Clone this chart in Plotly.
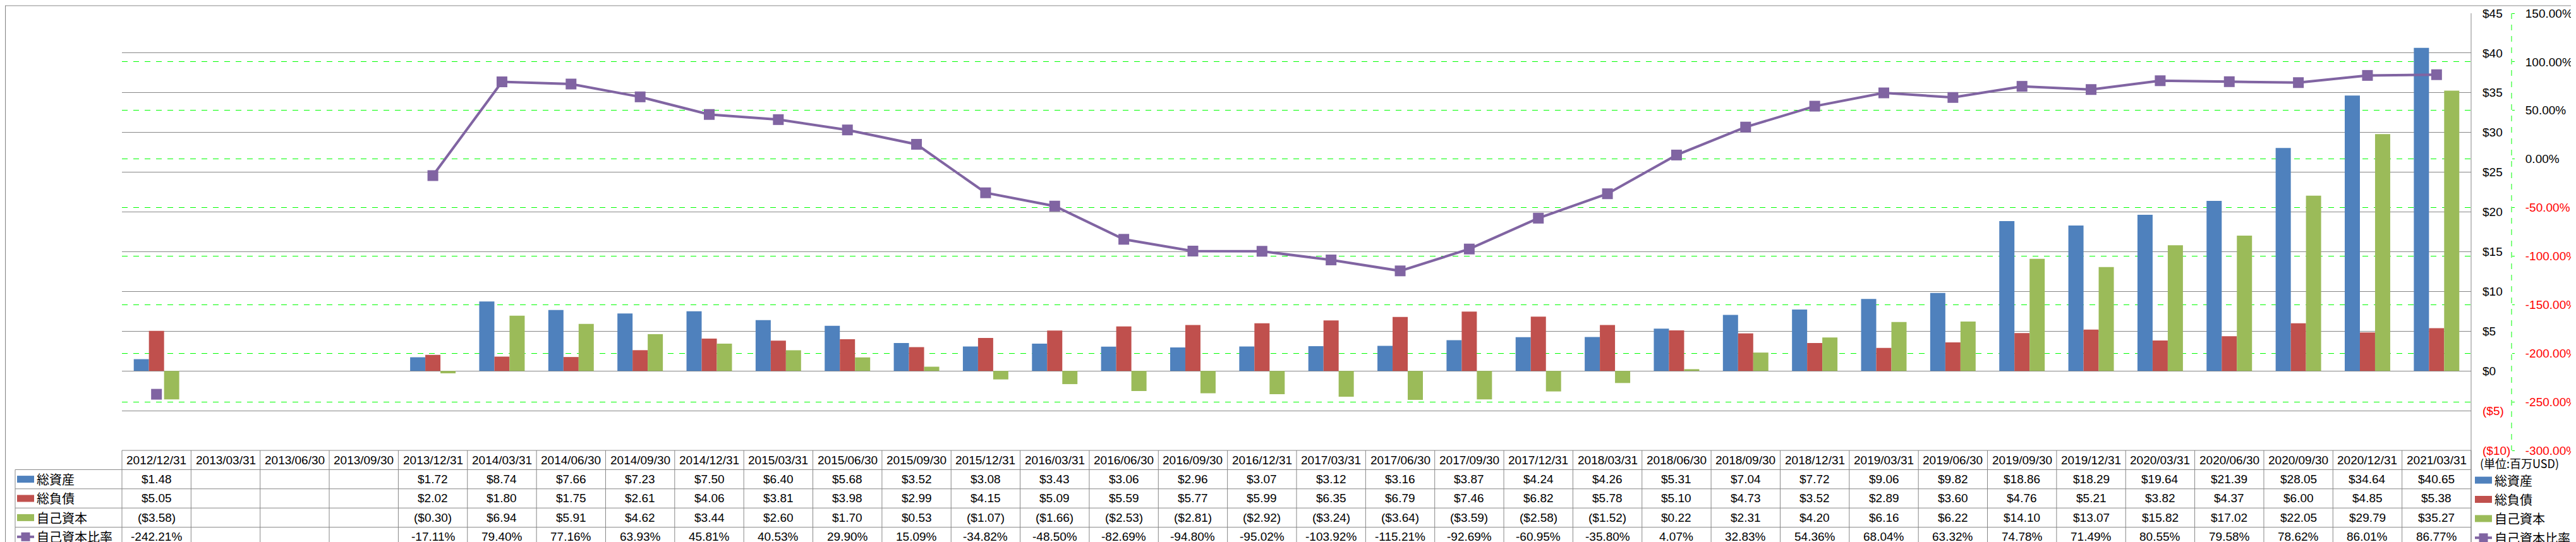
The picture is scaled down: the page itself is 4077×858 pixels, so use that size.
import plotly.graph_objects as go

# ---------------- data ----------------
dates = ["2012/12/31", "2013/03/31", "2013/06/30", "2013/09/30", "2013/12/31",
         "2014/03/31", "2014/06/30", "2014/09/30", "2014/12/31", "2015/03/31",
         "2015/06/30", "2015/09/30", "2015/12/31", "2016/03/31", "2016/06/30",
         "2016/09/30", "2016/12/31", "2017/03/31", "2017/06/30", "2017/09/30",
         "2017/12/31", "2018/03/31", "2018/06/30", "2018/09/30", "2018/12/31",
         "2019/03/31", "2019/06/30", "2019/09/30", "2019/12/31", "2020/03/31",
         "2020/06/30", "2020/09/30", "2020/12/31", "2021/03/31"]
total_assets = [1.48, None, None, None, 1.72, 8.74, 7.66, 7.23, 7.50, 6.40,
                5.68, 3.52, 3.08, 3.43, 3.06, 2.96, 3.07, 3.12, 3.16, 3.87,
                4.24, 4.26, 5.31, 7.04, 7.72, 9.06, 9.82, 18.86, 18.29, 19.64,
                21.39, 28.05, 34.64, 40.65]
total_liabilities = [5.05, None, None, None, 2.02, 1.80, 1.75, 2.61, 4.06, 3.81,
                     3.98, 2.99, 4.15, 5.09, 5.59, 5.77, 5.99, 6.35, 6.79, 7.46,
                     6.82, 5.78, 5.10, 4.73, 3.52, 2.89, 3.60, 4.76, 5.21, 3.82,
                     4.37, 6.00, 4.85, 5.38]
equity = [-3.58, None, None, None, -0.30, 6.94, 5.91, 4.62, 3.44, 2.60,
          1.70, 0.53, -1.07, -1.66, -2.53, -2.81, -2.92, -3.24, -3.64, -3.59,
          -2.58, -1.52, 0.22, 2.31, 4.20, 6.16, 6.22, 14.10, 13.07, 15.82,
          17.02, 22.05, 29.79, 35.27]
equity_ratio = [-242.21, None, None, None, -17.11, 79.40, 77.16, 63.93, 45.81, 40.53,
                29.90, 15.09, -34.82, -48.50, -82.69, -94.80, -95.02, -103.92, -115.21, -92.69,
                -60.95, -35.80, 4.07, 32.83, 54.36, 68.04, 63.32, 74.78, 71.49, 80.55,
                79.58, 78.62, 86.01, 86.77]

series_names = ["総資産", "総負債", "自己資本", "自己資本比率"]
usd_ticks = [-10, -5, 0, 5, 10, 15, 20, 25, 30, 35, 40, 45]
pct_ticks = [-300, -250, -200, -150, -100, -50, 0, 50, 100, 150]
unit_label = "(単位:百万USD)"

# ---------------- style ----------------
BLUE, RED, GREEN, PURPLE = "#4F81BD", "#C0504D", "#9BBB59", "#8064A2"
GRAY = "#878787"
LIME = "#00FF00"
NUM_FONT = "Liberation Sans"
JP_FONT = "Noto Sans CJK JP"

W, H = 4077, 858
ML, MR, MT, MB = 185, 7, 13, 153
PW, PH = W - ML - MR, H - MT - MB
PLOT_R = 3903
N = len(dates)


def px(x):
    return (x - ML) / PW


def py(y):
    return (H - MB - y) / PH


fig = go.Figure()
for name, vals, col in [(series_names[0], total_assets, BLUE),
                        (series_names[1], total_liabilities, RED),
                        (series_names[2], equity, GREEN)]:
    fig.add_trace(go.Bar(x=dates, y=vals, name=name, marker_color=col,
                         marker_line_width=0, showlegend=False))

fig.add_trace(go.Scatter(x=dates, y=equity_ratio, name=series_names[3], yaxis="y2",
                         mode="lines+markers", connectgaps=False,
                         line=dict(color=PURPLE, width=4),
                         marker=dict(symbol="square", size=17, color=PURPLE),
                         showlegend=False))


def usd_fmt(v):
    if v is None:
        return ""
    if v < 0:
        return "(${:.2f})".format(-v)
    return "${:.2f}".format(v)


def usd_tick(v):
    if v < 0:
        return '<span style="color:#FF0000">($%d)</span>' % (-v)
    return "$%d" % v


def pct_tick(v):
    s = "%.2f%%" % v
    if v < 0:
        return '<span style="color:#FF0000">%s</span>' % s
    return s


shapes = []
annotations = []


def hline(x0, x1, y, color=GRAY, width=1, dash="solid"):
    shapes.append(dict(type="line", xref="paper", yref="paper",
                       x0=px(x0), x1=px(x1), y0=py(y), y1=py(y),
                       line=dict(color=color, width=width, dash=dash)))


def vline(x, y0, y1, color=GRAY, width=1, dash="solid"):
    shapes.append(dict(type="line", xref="paper", yref="paper",
                       x0=px(x), x1=px(x), y0=py(y0), y1=py(y1),
                       line=dict(color=color, width=width, dash=dash)))


def text(x, y, s, size, family, color="#000000", xanchor="center"):
    annotations.append(dict(xref="paper", yref="paper", x=px(x), y=py(y), text=s,
                            showarrow=False, xanchor=xanchor, yanchor="middle",
                            font=dict(size=size, family=family, color=color)))


# outer border
shapes.append(dict(type="rect", xref="paper", yref="paper",
                   x0=px(0.5), x1=px(W - 0.5), y0=py(1), y1=py(H - 1),
                   line=dict(color=GRAY, width=1.2)))

# secondary axis dashed line
vline(3967, MT, H - MB, color=LIME, width=1, dash="dash")

# table
colw = (PLOT_R - ML) / N
row_edges = [705, 735.4, 765.8, 796.2, 826.6, 857]
TL = 16
hline(ML, PLOT_R, row_edges[0])
for ry in row_edges[1:]:
    hline(TL, PLOT_R, ry)
vline(TL, row_edges[1], row_edges[-1])
for i in range(N + 1):
    vline(ML + i * colw, row_edges[0], row_edges[-1])
vline(PLOT_R, MT, row_edges[-1])

rows = [total_assets, total_liabilities, equity, equity_ratio]
for i, d in enumerate(dates):
    cx = ML + (i + 0.5) * colw
    text(cx, (row_edges[0] + row_edges[1]) / 2, d, 19, NUM_FONT)
    for r, vals in enumerate(rows):
        cy = (row_edges[r + 1] + row_edges[r + 2]) / 2
        v = vals[i]
        if r == 3:
            s = "" if v is None else "%.2f%%" % v
        else:
            s = usd_fmt(v)
        if s:
            text(cx, cy, s, 19, NUM_FONT)

# legend swatches (table left column and right side)
swatch_cols = [BLUE, RED, GREEN]


def legend_entry(x0, cy, idx):
    if idx < 3:
        shapes.append(dict(type="rect", xref="paper", yref="paper",
                           x0=px(x0), x1=px(x0 + 27), y0=py(cy - 5.5), y1=py(cy + 5.5),
                           fillcolor=swatch_cols[idx], line=dict(width=0)))
    else:
        hline(x0, x0 + 27, cy, color=PURPLE, width=4)
        shapes.append(dict(type="rect", xref="paper", yref="paper",
                           x0=px(x0 + 6.5), x1=px(x0 + 20.5), y0=py(cy - 7), y1=py(cy + 7),
                           fillcolor=PURPLE, line=dict(width=0)))
    text(x0 + 29, cy, series_names[idx], 20, JP_FONT, xanchor="left")


for r in range(4):
    cy = (row_edges[r + 1] + row_edges[r + 2]) / 2
    legend_entry(19, cy, r)
    legend_entry(3909, cy + 1.5, r)

text(3915, 725, unit_label, 18, JP_FONT, xanchor="left")

fig.update_layout(
    width=W, height=H,
    margin=dict(l=ML, r=MR, t=MT, b=MB, pad=0),
    paper_bgcolor="#FFFFFF", plot_bgcolor="#FFFFFF",
    barmode="group", bargap=0.342, bargroupgap=0,
    xaxis=dict(type="category", domain=[0, px(PLOT_R)], showticklabels=False,
               showgrid=False, zeroline=False, showline=False, ticks="",
               automargin=False, range=[-0.5, N - 0.5]),
    yaxis=dict(side="right", range=[-10, 45], tickvals=usd_ticks,
               ticktext=[usd_tick(v) for v in usd_ticks],
               showgrid=True, gridcolor=GRAY, gridwidth=1, zeroline=False,
               showline=False, ticks="", ticklabelstandoff=17, automargin=False,
               tickfont=dict(size=19, family=NUM_FONT, color="#000000")),
    yaxis2=dict(overlaying="y", side="right", anchor="free", position=px(3967),
                range=[-300, 150], tickvals=pct_ticks,
                ticktext=[pct_tick(v) for v in pct_ticks],
                showgrid=True, gridcolor=LIME, gridwidth=1, griddash="dash",
                zeroline=False, showline=False, ticks="outside", ticklen=4,
                tickcolor=LIME, tickwidth=1, ticklabelstandoff=13, automargin=False,
                tickfont=dict(size=19, family=NUM_FONT, color="#000000")),
    shapes=shapes,
    annotations=annotations,
)

fig.write_html("out.html")
